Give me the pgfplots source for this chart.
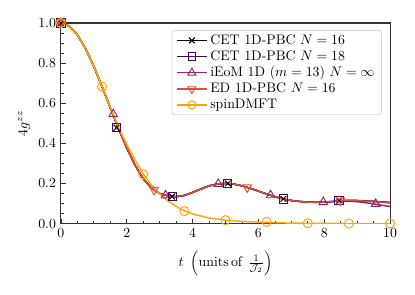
\documentclass[border=0pt]{standalone}
\usepackage{pgfplots}
\pgfplotsset{compat=1.18}
\usepackage{pgfplotstable}
\definecolor{cA}{HTML}{000004}
\definecolor{cB}{HTML}{420A68}
\definecolor{cC}{HTML}{932667}
\definecolor{cD}{HTML}{DD513A}
\definecolor{cE}{HTML}{FCA50A}
\pgfplotstableread{
t g
0 1.000
0.25 0.985
0.5 0.941
0.75 0.872
1.0 0.784
1.25 0.683
1.5 0.578
1.75 0.474
2.0 0.377
2.25 0.292
2.5 0.224
2.75 0.177
3.0 0.150
3.25 0.138
3.5 0.134
3.75 0.140
4.0 0.155
4.25 0.172
4.5 0.188
4.75 0.197
5.0 0.200
5.25 0.197
5.5 0.188
5.75 0.176
6.0 0.162
6.25 0.147
6.5 0.134
6.75 0.123
7.0 0.115
7.25 0.110
7.5 0.107
7.75 0.106
8.0 0.107
8.25 0.110
8.5 0.114
8.75 0.115
9.0 0.114
9.25 0.112
9.5 0.110
9.75 0.107
10.0 0.104
}\cetA
\pgfplotstableread{
t g
0 1.000
0.25 0.985
0.5 0.941
0.75 0.872
1.0 0.784
1.25 0.683
1.5 0.578
1.75 0.474
2.0 0.377
2.25 0.292
2.5 0.224
2.75 0.177
3.0 0.150
3.25 0.138
3.5 0.134
3.75 0.140
4.0 0.155
4.25 0.172
4.5 0.188
4.75 0.197
5.0 0.200
5.25 0.197
5.5 0.188
5.75 0.176
6.0 0.162
6.25 0.147
6.5 0.134
6.75 0.123
7.0 0.115
7.25 0.110
7.5 0.107
7.75 0.106
8.0 0.107
8.25 0.110
8.5 0.114
8.75 0.116
9.0 0.115
9.25 0.113
9.5 0.111
9.75 0.108
10.0 0.105
}\cetB
\pgfplotstableread{
t g
0 1.000
0.25 0.985
0.5 0.941
0.75 0.872
1.0 0.784
1.25 0.683
1.5 0.578
1.75 0.474
2.0 0.377
2.25 0.292
2.5 0.224
2.75 0.177
3.0 0.150
3.25 0.138
3.5 0.134
3.75 0.140
4.0 0.155
4.25 0.172
4.5 0.188
4.75 0.197
5.0 0.200
5.25 0.197
5.5 0.188
5.75 0.176
6.0 0.162
6.25 0.147
6.5 0.134
6.75 0.123
7.0 0.115
7.25 0.110
7.5 0.107
7.75 0.106
8.0 0.107
8.25 0.109
8.5 0.112
8.75 0.112
9.0 0.109
9.25 0.104
9.5 0.098
9.75 0.091
10.0 0.085
}\ieom
\pgfplotstableread{
t g
0 1.000
0.25 0.985
0.5 0.941
0.75 0.872
1.0 0.784
1.25 0.683
1.5 0.578
1.75 0.474
2.0 0.377
2.25 0.292
2.5 0.224
2.75 0.177
3.0 0.150
3.25 0.138
3.5 0.134
3.75 0.140
4.0 0.155
4.25 0.172
4.5 0.188
4.75 0.197
5.0 0.200
5.25 0.197
5.5 0.188
5.75 0.176
6.0 0.162
6.25 0.147
6.5 0.134
6.75 0.123
7.0 0.115
7.25 0.110
7.5 0.107
7.75 0.106
8.0 0.107
8.25 0.110
8.5 0.114
8.75 0.115
9.0 0.114
9.25 0.112
9.5 0.110
9.75 0.107
10.0 0.104
}\ed
\pgfplotstableread{
t g
0 1.000
0.25 0.985
0.5 0.941
0.75 0.872
1.0 0.784
1.25 0.685
1.5 0.580
1.75 0.480
2.0 0.395
2.25 0.318
2.5 0.248
2.75 0.192
3.0 0.148
3.25 0.113
3.5 0.086
3.75 0.064
4.0 0.048
4.5 0.028
5.0 0.017
5.5 0.011
6.0 0.007
6.5 0.004
7.0 0.002
8.0 0.001
9.0 0.000
10.0 0.000
}\dmft
\begin{document}
\begin{tikzpicture}
\begin{axis}[
  name=main,
  scale only axis,
  width=238pt, height=145pt,
  xmin=0, xmax=10, ymin=0, ymax=1,
  xtick={0,2,4,6,8,10}, minor x tick num=3,
  ytick={0,0.2,0.4,0.6,0.8,1.0}, minor y tick num=3,
  yticklabel style={/pgf/number format/fixed,/pgf/number format/fixed zerofill,/pgf/number format/precision=1},
  tick align=inside,
  xtick pos=bottom, ytick pos=left,
  major tick length=3.5pt, minor tick length=2pt,
  every tick/.style={black!80, line width=0.5pt},
  axis line style={black!80, line width=0.8pt},
  xlabel={$t\ \left(\mathrm{units\,of}\ \frac{1}{\mathcal{J}_2}\right)$},
  ylabel={$4g^{zz}$},
  xlabel style={yshift=-5pt, inner sep=1pt},
  ylabel style={yshift=-1pt},
  legend cell align=left,
  legend style={at={(0.975,0.965)}, anchor=north east, draw=black!15, rounded corners=2pt, line width=0.6pt, inner xsep=3pt, inner ysep=1pt, row sep=-1pt},
  legend image code/.code={\draw[mark repeat=2,mark phase=2] plot coordinates {(0cm,0cm) (0.38cm,0cm) (0.76cm,0cm)};},
  every axis plot/.append style={line width=1.05pt},
]
% lines
\addplot[cC, no marks, forget plot] table[x=t,y=g] {\ieom};
\addplot[cB, no marks, forget plot] table[x=t,y=g] {\cetB};
\addplot[cA, no marks, forget plot] table[x=t,y=g] {\cetA};
\addplot[cD, no marks, forget plot] table[x=t,y=g] {\ed};
\addplot[cE, no marks, forget plot] table[x=t,y=g] {\dmft};
% markers
\addplot[cC, only marks, mark=triangle, mark size=3.6pt, mark options={line width=0.7pt, fill=none}, forget plot] coordinates {(0,1.0) (1.59,0.545) (3.18,0.140) (4.78,0.198) (6.37,0.141) (7.97,0.107) (9.56,0.098)};
\addplot[cB, only marks, mark=square, mark size=3pt, mark options={line width=0.7pt, fill=cB!35}, forget plot] coordinates {(0,1.0) (1.69,0.478) (3.38,0.135) (5.07,0.200) (6.76,0.123) (8.45,0.114)};
\addplot[cA, only marks, mark=x, mark size=3pt, mark options={line width=0.7pt}, forget plot] coordinates {(0,1.0) (1.69,0.478) (3.38,0.135) (5.07,0.200) (6.76,0.123) (8.45,0.114)};
\addplot[cD, only marks, mark=triangle, mark size=3.6pt, mark options={line width=0.7pt, fill=none, rotate=180}, forget plot] coordinates {(0,1.0) (2.83,0.168) (5.66,0.180) (8.49,0.114)};
\addplot[cE, only marks, mark=o, mark size=3.3pt, mark options={line width=0.7pt}, forget plot] coordinates {(0,1.0) (1.25,0.683) (2.5,0.246) (3.75,0.062) (5.0,0.017) (6.25,0.008) (7.5,0.0015) (8.75,0.0) (10,0.0)};
% legend
\addlegendimage{cA, line width=1pt, mark=x, mark size=3pt, mark options={line width=0.7pt}}
\addlegendentry{CET 1D-PBC $N=16$}
\addlegendimage{cB, line width=1pt, mark=square, mark size=2.8pt, mark options={line width=0.7pt, fill=none}}
\addlegendentry{CET 1D-PBC $N=18$}
\addlegendimage{cC, line width=1pt, mark=triangle, mark size=3.3pt, mark options={line width=0.7pt, fill=none}}
\addlegendentry{iEoM 1D $(m=13)$ $N=\infty$}
\addlegendimage{cD, line width=1pt, mark=triangle, mark size=3.3pt, mark options={line width=0.7pt, fill=none, rotate=180}}
\addlegendentry{ED 1D-PBC $N=16$}
\addlegendimage{cE, line width=1pt, mark=o, mark size=3pt, mark options={line width=0.7pt}}
\addlegendentry{spinDMFT}
\end{axis}
\useasboundingbox ([xshift=-44pt,yshift=-51pt]main.south west) rectangle ([xshift=18pt,yshift=16.6pt]main.north east);
\end{tikzpicture}
\end{document}
